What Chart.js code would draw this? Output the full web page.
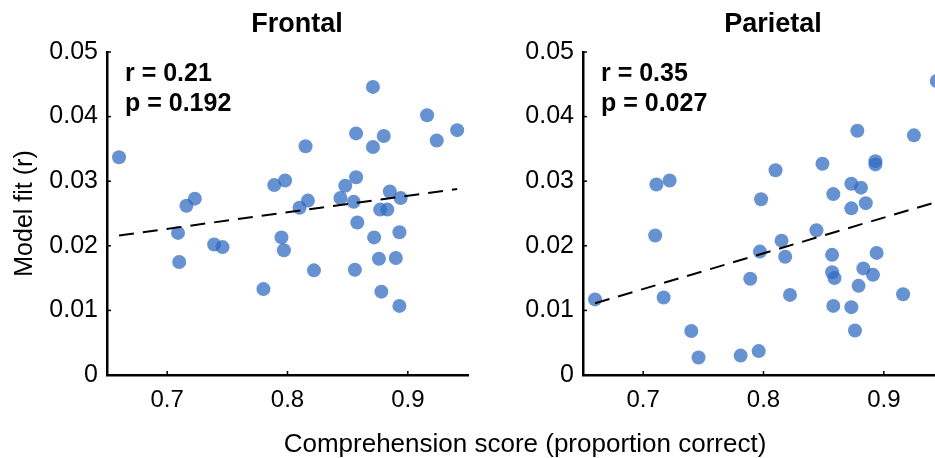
<!DOCTYPE html>
<html>
<head>
<meta charset="utf-8">
<title>Comprehension vs model fit</title>
<script src="https://cdn.jsdelivr.net/npm/chart.js@4.4.1/dist/chart.umd.min.js"></script>
<style>
    html, body { margin: 0; padding: 0; background: #fff; }
    #figure { position: relative; width: 935px; height: 458px; overflow: hidden; }
    .panel { position: absolute; top: 0; width: 480px; height: 458px; }
    #xlabel {
        position: absolute; left: 0; top: 428px; width: 1050px;
        text-align: center; line-height: 1; color: #000;
        font: 26px 'Liberation Sans', Arial, sans-serif;
    }
</style>
</head>
<body>
<div id="figure">
    <div class="panel" style="left:0"><canvas id="frontal-chart"></canvas></div>
    <div class="panel" style="left:476px"><canvas id="parietal-chart"></canvas></div>
    <div id="xlabel">Comprehension score (proportion correct)</div>
</div>
<script>
// Axis ticks
const xTicks = [0.7, 0.8, 0.9];
const yTicks = [0, 0.01, 0.02, 0.03, 0.04, 0.05];

// Frontal subjects: comprehension score / model fit
const frontalX = [0.660, 0.871, 0.916, 0.941, 0.924, 0.857, 0.880, 0.871, 0.815, 0.857,
    0.848, 0.798, 0.789, 0.723, 0.716, 0.817, 0.810, 0.844, 0.855, 0.885,
    0.894, 0.877, 0.883, 0.858, 0.709, 0.795, 0.797, 0.739, 0.746, 0.872,
    0.893, 0.710, 0.876, 0.890, 0.822, 0.856, 0.780, 0.878, 0.893];
const frontalY = [0.0337, 0.0446, 0.0402, 0.0379, 0.0363, 0.0374, 0.0370, 0.0353, 0.0354, 0.0306,
    0.0293, 0.0301, 0.0294, 0.0273, 0.0262, 0.0270, 0.0259, 0.0274, 0.0268, 0.0284,
    0.0274, 0.0256, 0.0256, 0.0236, 0.0220, 0.0213, 0.0193, 0.0202, 0.0198, 0.0213,
    0.0221, 0.0175, 0.0180, 0.0181, 0.0162, 0.0163, 0.0133, 0.0129, 0.0107];
const frontalFitX = [0.660, 0.941];
const frontalFitY = [0.0216, 0.0288];

// Parietal subjects
const parietalX = [0.660, 0.711, 0.722, 0.710, 0.717, 0.740, 0.746, 0.781, 0.796, 0.789,
    0.798, 0.797, 0.810, 0.815, 0.818, 0.822, 0.844, 0.849, 0.858, 0.857,
    0.857, 0.859, 0.858, 0.873, 0.881, 0.873, 0.885, 0.878, 0.893, 0.893,
    0.883, 0.894, 0.891, 0.879, 0.873, 0.876, 0.916, 0.925, 0.944];
const parietalY = [0.0117, 0.0295, 0.0301, 0.0216, 0.0120, 0.0068, 0.0027, 0.0030, 0.0037, 0.0149,
    0.0272, 0.0191, 0.0317, 0.0208, 0.0183, 0.0124, 0.0224, 0.0327, 0.0280, 0.0186,
    0.0159, 0.0150, 0.0107, 0.0296, 0.0290, 0.0258, 0.0266, 0.0378, 0.0331, 0.0326,
    0.0165, 0.0189, 0.0155, 0.0138, 0.0105, 0.0069, 0.0125, 0.0371, 0.0455];
const parietalFitX = [0.660, 0.944];
const parietalFitY = [0.0111, 0.0268];

Chart.defaults.font.family = "'Liberation Sans', Arial, sans-serif";
Chart.defaults.color = '#000';

const toPoints = (xs, ys) => xs.map((x, i) => ({ x: x, y: ys[i] }));

// Title, r/p stats and small inward tick marks
const panelLabels = {
    id: 'panelLabels',
    afterDraw(chart, args, opts) {
        const ctx = chart.ctx;
        const { left, top, bottom } = chart.chartArea;
        const xs = chart.scales.x, ys = chart.scales.y;

        ctx.save();
        ctx.strokeStyle = '#000';
        ctx.lineWidth = 1.5;
        xs.ticks.forEach(t => {
            const px = xs.getPixelForValue(t.value);
            ctx.beginPath(); ctx.moveTo(px, bottom); ctx.lineTo(px, bottom - 4); ctx.stroke();
        });
        ys.ticks.forEach(t => {
            const py = ys.getPixelForValue(t.value);
            ctx.beginPath(); ctx.moveTo(left, py); ctx.lineTo(left + 4, py); ctx.stroke();
        });

        ctx.fillStyle = '#000';
        ctx.textBaseline = 'alphabetic';
        ctx.font = "bold 27px 'Liberation Sans', Arial, sans-serif";
        ctx.textAlign = 'center';
        ctx.fillText(opts.title, left + 190, 32);

        ctx.font = "bold 25px 'Liberation Sans', Arial, sans-serif";
        ctx.textAlign = 'left';
        opts.stats.forEach((line, i) => ctx.fillText(line, left + 18, top + 29 + i * 30));
        ctx.restore();
    }
};

function makePanel(canvasId, title, stats, xs, ys, fitX, fitY, showYTitle) {
    const ctx = document.getElementById(canvasId).getContext('2d');
    return new Chart(ctx, {
        type: 'scatter',
        data: {
            datasets: [{
                type: 'line',
                data: toPoints(fitX, fitY),
                borderColor: '#000',
                borderWidth: 2,
                borderDash: [15, 9],
                pointRadius: 0,
                fill: false
            }, {
                data: toPoints(xs, ys),
                backgroundColor: 'rgba(44, 104, 192, 0.72)',
                borderWidth: 0,
                pointRadius: 7,
                pointHoverRadius: 7
            }]
        },
        options: {
            responsive: true,
            maintainAspectRatio: false,
            animation: false,
            layout: { padding: { top: 52, right: 12, bottom: 0, left: 0 } },
            plugins: {
                legend: { display: false },
                tooltip: { enabled: false },
                panelLabels: { title: title, stats: stats }
            },
            scales: {
                x: {
                    type: 'linear',
                    min: 0.65,
                    max: 0.95,
                    grid: { display: false, drawTicks: false },
                    border: { color: '#000', width: 2.5 },
                    afterBuildTicks: scale => { scale.ticks = xTicks.map(v => ({ value: v })); },
                    afterFit: scale => { scale.height = 83; },
                    ticks: {
                        padding: 11,
                        font: { size: 24 },
                        callback: value => value.toFixed(1)
                    }
                },
                y: {
                    min: 0,
                    max: 0.05,
                    grid: { display: false, drawTicks: false },
                    border: { color: '#000', width: 2.5 },
                    afterBuildTicks: scale => { scale.ticks = yTicks.map(v => ({ value: v })); },
                    afterFit: scale => { scale.width = 107; },
                    ticks: {
                        padding: 9,
                        font: { size: 25 },
                        callback: value => value === 0 ? '0' : value.toFixed(2)
                    },
                    title: {
                        display: showYTitle,
                        text: 'Model fit (r)',
                        font: { size: 25 },
                        padding: { top: 10, bottom: 0 }
                    }
                }
            }
        },
        plugins: [panelLabels]
    });
}

makePanel('frontal-chart', 'Frontal', ['r = 0.21', 'p = 0.192'],
    frontalX, frontalY, frontalFitX, frontalFitY, true);
makePanel('parietal-chart', 'Parietal', ['r = 0.35', 'p = 0.027'],
    parietalX, parietalY, parietalFitX, parietalFitY, false);
</script>
</body>
</html>
